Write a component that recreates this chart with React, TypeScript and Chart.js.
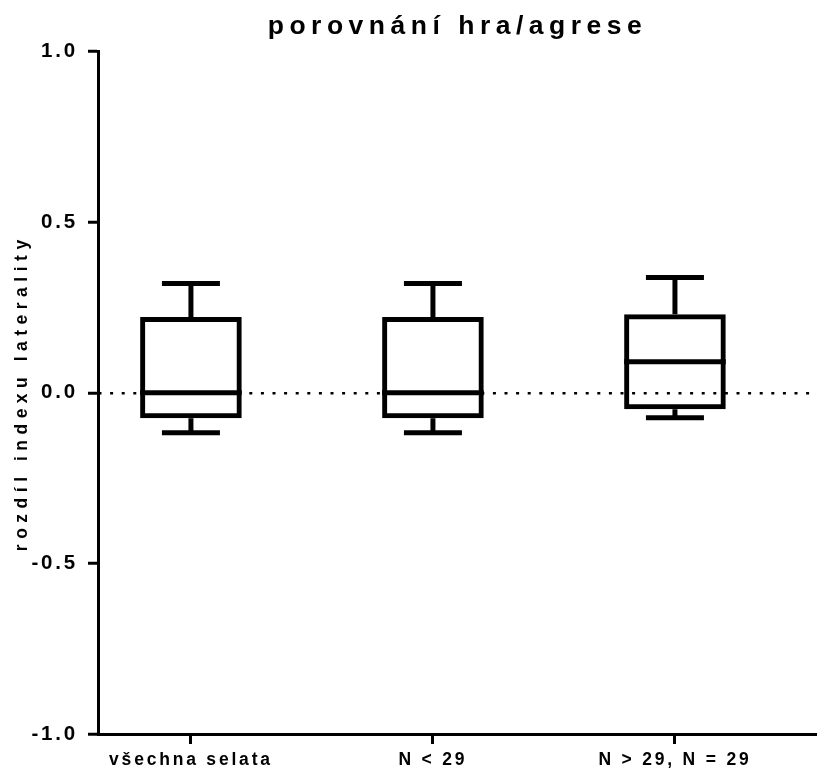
import React, { useEffect, useRef } from 'react';
import { Chart, registerables } from 'chart.js';

Chart.register(...registerables);

// ---- data ----
const categories = ['všechna selata', 'N < 29', 'N > 29, N = 29'];
const whiskerMin = [-0.117, -0.117, -0.073];
const quartile1 = [-0.075, -0.075, -0.0485];
const medians = [0, 0, 0.091];
const quartile3 = [0.222, 0.222, 0.23];
const whiskerMax = [0.32, 0.32, 0.338];
const yMin = -1;
const yMax = 1;
const yStep = 0.5;
const xMin = -0.384;
const xMax = 2.587;
const chartTitle = 'porovnání hra/agrese';
const yTitle = 'rozdíl indexu laterality';

const FONT = '"Liberation Sans", Arial, Helvetica, sans-serif';
const TITLE_SPACING = '5.5px';
const TICK_SPACING = '2.8px';

const letterSpacingPlugin = {
  id: 'letterSpacingPlugin',
  beforeUpdate(chart: any) {
    chart.ctx.letterSpacing = TITLE_SPACING;
  },
  beforeDraw(chart: any) {
    chart.ctx.letterSpacing = TITLE_SPACING;
  },
  afterDatasetsDraw(chart: any) {
    chart.ctx.letterSpacing = TICK_SPACING;
  },
  afterDraw(chart: any) {
    chart.ctx.letterSpacing = '0px';
  },
};

const idx = categories.map((_, i) => i);

export default function App() {
  const canvasRef = useRef<HTMLCanvasElement | null>(null);

  useEffect(() => {
    const canvas = canvasRef.current;
    if (!canvas) return;

    const capPoint = {
      type: 'line',
      showLine: false,
      pointStyle: 'line',
      pointRadius: 29,
      pointHoverRadius: 29,
      pointBorderWidth: 5,
      pointBorderColor: '#000',
      pointBackgroundColor: '#000',
    };

    const chart = new Chart(canvas, {
      type: 'bar',
      data: {
        datasets: [
          {
            type: 'bar',
            label: 'box',
            data: idx.map((i) => ({ x: i, y: [quartile1[i], quartile3[i]] })) as any,
            backgroundColor: 'rgba(0,0,0,0)',
            borderColor: '#000',
            borderWidth: 5,
            borderSkipped: false,
            inflateAmount: 0,
            grouped: false,
            categoryPercentage: 1,
            barPercentage: 0.42,
          } as any,
          {
            type: 'bar',
            label: 'upper whisker',
            data: idx.map((i) => ({ x: i, y: [quartile3[i], whiskerMax[i]] })) as any,
            backgroundColor: '#000',
            borderWidth: 0,
            inflateAmount: 0,
            grouped: false,
            barThickness: 5,
          } as any,
          {
            type: 'bar',
            label: 'lower whisker',
            data: idx.map((i) => ({ x: i, y: [whiskerMin[i], quartile1[i]] })) as any,
            backgroundColor: '#000',
            borderWidth: 0,
            inflateAmount: 0,
            grouped: false,
            barThickness: 5,
          } as any,
          {
            type: 'line',
            label: 'median',
            data: idx.map((i) => ({ x: i, y: medians[i] })),
            showLine: false,
            pointStyle: 'line',
            pointRadius: 50.8,
            pointHoverRadius: 50.8,
            pointBorderWidth: 5,
            pointBorderColor: '#000',
            pointBackgroundColor: '#000',
          } as any,
          {
            ...capPoint,
            label: 'max',
            data: idx.map((i) => ({ x: i, y: whiskerMax[i] })),
          } as any,
          {
            ...capPoint,
            label: 'min',
            data: idx.map((i) => ({ x: i, y: whiskerMin[i] })),
          } as any,
        ],
      },
      options: {
        responsive: false,
        animation: false,
        devicePixelRatio: 1,
        layout: { autoPadding: false, padding: 0 },
        plugins: {
          legend: { display: false },
          tooltip: { enabled: false },
          title: {
            display: true,
            text: chartTitle,
            fullSize: false,
            color: '#000',
            font: { family: FONT, size: 26.5, weight: 'bold', lineHeight: 1.2 },
            padding: { top: 11, bottom: 8.7 },
          },
        },
        scales: {
          x: {
            type: 'linear',
            min: xMin,
            max: xMax,
            offset: false,
            afterBuildTicks: (s: any) => {
              s.ticks = idx.map((i) => ({ value: i }));
            },
            grid: {
              display: true,
              offset: false,
              drawOnChartArea: false,
              drawTicks: true,
              tickLength: 10,
              tickWidth: 3,
              tickColor: '#000',
              color: '#000',
            },
            border: { display: true, color: '#000', width: 3 },
            ticks: {
              z: 1,
              color: '#000',
              font: { family: FONT, size: 17.5, weight: 'bold', lineHeight: 1.2 },
              padding: 6,
              maxRotation: 0,
              autoSkip: false,
              callback: (v: any) => categories[Math.round(Number(v))] ?? '',
            },
            afterFit: (s: any) => {
              s.height = 45;
            },
          },
          y: {
            min: yMin,
            max: yMax,
            ticks: {
              z: 1,
              stepSize: yStep,
              color: '#000',
              font: { family: FONT, size: 20.5, weight: 'bold', lineHeight: 1.2 },
              padding: 10,
              callback: (v: any) => Number(v).toFixed(1),
            },
            grid: {
              display: true,
              drawOnChartArea: true,
              drawTicks: true,
              color: (ctx: any) =>
                ctx.tick && ctx.tick.value === 0 ? '#000' : 'rgba(0,0,0,0)',
              lineWidth: 2.5,
              tickColor: '#000',
              tickWidth: 3,
              tickLength: 10,
            },
            border: {
              display: true,
              color: '#000',
              width: 3,
              dash: [3, 8.6],
              dashOffset: 1.5,
            },
            title: {
              display: true,
              text: yTitle,
              color: '#000',
              font: { family: FONT, size: 17.5, weight: 'bold', lineHeight: 1.2 },
              padding: { top: 12, bottom: 0 },
            },
            afterFit: (s: any) => {
              s.width = 98;
            },
          },
        },
      } as any,
      plugins: [letterSpacingPlugin],
    });

    return () => {
      chart.destroy();
    };
  }, []);

  return (
    <div
      style={{
        position: 'fixed',
        left: 0,
        top: 0,
        width: 817,
        height: 779,
        overflow: 'hidden',
        background: '#fff',
      }}
    >
      <canvas
        ref={canvasRef}
        width={817}
        height={779}
        style={{ display: 'block', width: 817, height: 779 }}
      />
    </div>
  );
}
